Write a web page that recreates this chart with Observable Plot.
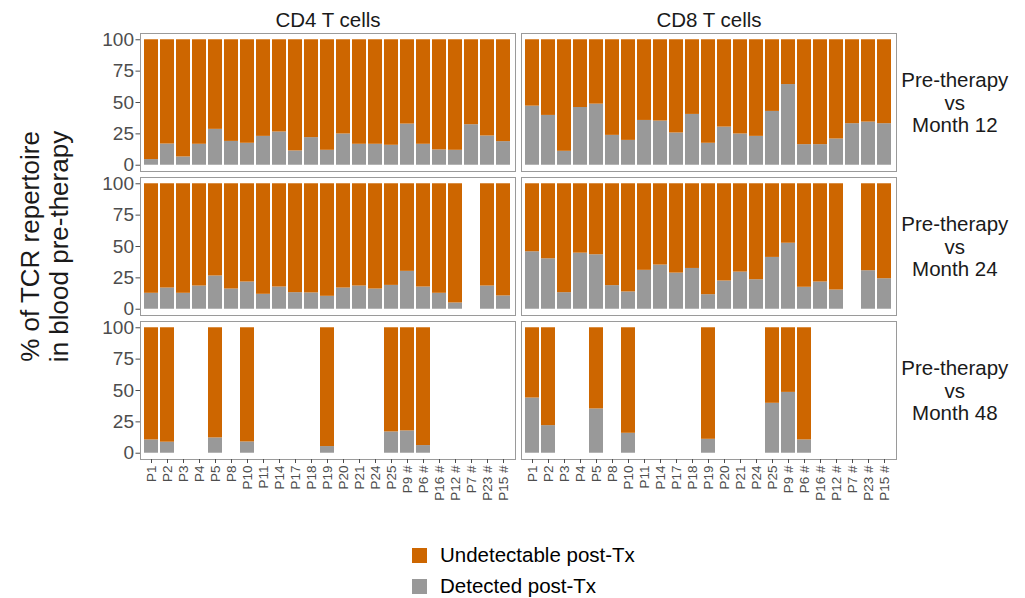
<!DOCTYPE html>
<html><head><meta charset="utf-8">
<script src="https://cdn.jsdelivr.net/npm/d3@7"></script>
<script src="https://cdn.jsdelivr.net/npm/@observablehq/plot@0.6"></script>
<style>
body{margin:0;background:#fff;font-family:"Liberation Sans",Arial,sans-serif;}
#wrap{position:relative;width:1025px;height:598px;background:#fff;}
#legend{position:absolute;left:0;top:535px;width:1025px;height:63px;}
.item{position:absolute;left:412px;display:flex;align-items:center;font-size:20.5px;line-height:24px;color:#000;}
.sw{width:15px;height:15px;margin-right:13px;}
</style></head><body>
<div id="wrap"><div id="chart"></div><div id="legend"></div></div>
<script>
const patients = ["P1","P2","P3","P4","P5","P8","P10","P11","P14","P17","P18","P19","P20","P21","P24","P25","P9 #","P6 #","P16 #","P12 #","P7 #","P23 #","P15 #"];
const cells = ["CD4 T cells","CD8 T cells"];
const months = ["Month 12","Month 24","Month 48"];
const statuses = ["Detected post-Tx","Undetectable post-Tx"];
const statusColors = ["#999999","#CD6600"];
const yTicks = [0,25,50,75,100];

// % detected post-Tx (gray); undetectable = 100 - detected
const cd4_m12 = [4.5,16.9,6.6,16.7,28.6,19,17.5,23,26.5,11.4,22,11.9,24.9,16.7,16.7,15.9,32.8,16.7,12.2,11.9,32.3,23.3,18.8];
const cd8_m12 = [47.1,39.7,11.1,46,48.7,23.8,19.8,35.7,35.2,25.7,40.5,17.5,30.4,24.9,23,42.9,64.3,16.4,16.4,20.9,33.1,34.4,33.1];
const cd4_m24 = [12.7,16.9,12.7,18.5,26.5,16.1,21.7,11.9,17.7,13.2,13,10.3,16.9,18.5,16.1,19,30.2,17.7,12.7,5,null,18.5,10.6];
const cd8_m24 = [45.8,40.2,13.2,44.7,43.4,18.8,13.8,31,35.2,28.8,32.5,11.6,22.5,29.6,23.5,41.3,52.6,17.5,21.7,15.3,null,30.7,24.3];
const cd4_m48 = [10.6,8.8,null,null,12.2,null,9,null,null,null,null,5.3,null,null,null,17,17.8,6.1,null,null,null,null,null];
const cd8_m48 = [44,22,null,null,35.3,null,15.9,null,null,null,null,11.1,null,null,null,39.8,48.5,10.6,null,null,null,null,null];

const panels = [
  ["CD4 T cells","Month 12",cd4_m12],["CD8 T cells","Month 12",cd8_m12],
  ["CD4 T cells","Month 24",cd4_m24],["CD8 T cells","Month 24",cd8_m24],
  ["CD4 T cells","Month 48",cd4_m48],["CD8 T cells","Month 48",cd8_m48]
];
const table = [];
for (const [cell, month, vals] of panels) {
  vals.forEach((v, i) => {
    if (v == null) return;
    table.push({cell, month, patient: patients[i], status: statuses[0], value: v});
    table.push({cell, month, patient: patients[i], status: statuses[1], value: 100 - v});
  });
}

const chart = Plot.plot({
  width: 1025, height: 535,
  marginLeft: 139, marginRight: 128.3, marginTop: 32.5, marginBottom: 75.7,
  style: {fontFamily: "'Liberation Sans', Arial, sans-serif", background: "#fff", overflow: "visible"},
  fx: {domain: cells, paddingInner: 0.0157, paddingOuter: 0, axis: null},
  fy: {domain: months, paddingInner: 0.0416, paddingOuter: 0, axis: null},
  x: {domain: patients, paddingInner: 0.1, paddingOuter: 0.15},
  y: {domain: [-5, 105]},
  color: {domain: statuses, range: statusColors},
  marks: [
    Plot.barY(table, {x: "patient", y: "value", fill: "status", fx: "cell", fy: "month", inset: 0}),
    Plot.frame({stroke: "#9a9a9a"}),
    Plot.axisY({ticks: yTicks, tickSize: 4.5, tickPadding: 2, fontSize: 19, color: "#4d4d4d", label: null}),
    Plot.axisX({tickRotate: -90, tickSize: 4, tickPadding: 2, fontSize: 13.5, color: "#4d4d4d", label: null}),
    Plot.text(cells, {fx: d => d, fy: () => "Month 12", frameAnchor: "top", text: d => d, lineAnchor: "bottom", dy: -6.5, fontSize: 20.5, fill: "#1a1a1a"}),
    Plot.text(months, {fx: () => "CD8 T cells", fy: d => d, frameAnchor: "right", dx: 58.3, textAnchor: "middle", lineAnchor: "middle", lineHeight: 1.08, fontSize: 20.5, fill: "#1a1a1a", text: d => `Pre-therapy\nvs\n${d}`}),
    Plot.text(["% of TCR repertoire\nin blood pre-therapy"], {fx: () => "CD4 T cells", fy: () => "Month 24", frameAnchor: "left", dx: -96, rotate: -90, textAnchor: "middle", lineAnchor: "middle", lineHeight: 1.12, fontSize: 26, fill: "#1a1a1a", text: d => d})
  ]
});
document.getElementById("chart").appendChild(chart);

const legend = document.getElementById("legend");
statuses.slice().reverse().forEach((s, i) => {
  const color = statusColors[statuses.indexOf(s)];
  const item = document.createElement("div");
  item.className = "item";
  item.style.top = (8 + i * 31) + "px";
  const sw = document.createElement("div");
  sw.className = "sw";
  sw.style.background = color;
  const label = document.createElement("span");
  label.textContent = s;
  item.appendChild(sw); item.appendChild(label);
  legend.appendChild(item);
});
</script>
</body></html>
